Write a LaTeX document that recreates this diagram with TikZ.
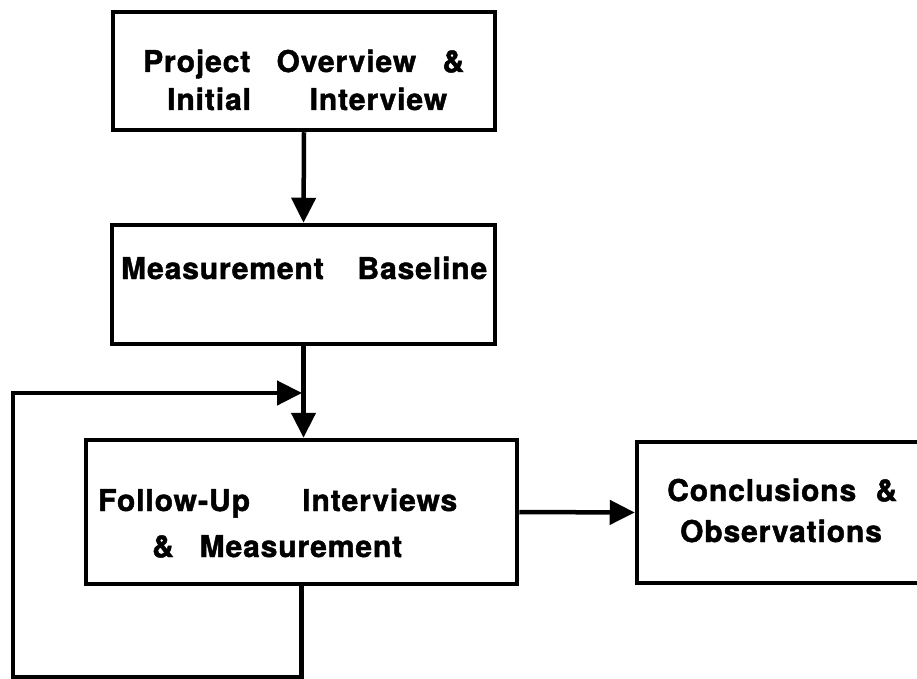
\documentclass[tikz,border=0pt]{standalone}
\usepackage{fontspec}
\newfontfamily\labelfont{texgyreheros-bold.otf}[LetterSpace=3, FakeBold=1.5]
\usetikzlibrary{arrows.meta}
% a line of words spread over a fixed width
\newcommand{\spreadline}[2]{\makebox[#1][s]{#2}}
\begin{document}
\begin{tikzpicture}[x=1pt,y=-1pt,
  box/.style={draw, line width=4.5pt, rectangle, inner sep=0pt},
  lbl/.style={anchor=base west, inner sep=0pt,
    font=\labelfont\fontsize{30}{36}\selectfont},
  flow/.style={line width=4.5pt, line join=miter,
    -{Triangle[length=25pt,width=24pt]}}]
\useasboundingbox (0,0) rectangle (917,679);
\clip (0,0) rectangle (917,679);

% process boxes
\node[box, minimum width=382pt, minimum height=118pt] (overview) at (304,71) {};
\node[box, minimum width=383pt, minimum height=119pt] (baseline) at (303.5,284.5) {};
\node[box, minimum width=431pt, minimum height=144pt] (followup) at (301.5,512) {};
\node[box, minimum width=288pt, minimum height=141pt] (concl) at (781,512.5) {};

% box texts
\node[lbl] (ovA) at (143,72) {\spreadline{321pt}{Project\hfill Overview\hfill\&}};
\node[lbl] (ovB) at (167,110) {\spreadline{280pt}{Initial\hfill Interview}};
\node[lbl] (bl) at (121,279) {\spreadline{366pt}{Measurement\hfill Baseline}};
\node[lbl] (fuA) at (98,511) {\spreadline{359pt}{Follow-Up\hfill Interviews}};
\node[lbl] (fuB) at (152,557) {\spreadline{250pt}{\&\hfill Measurement}};
\node[lbl] (coA) at (667,501) {\spreadline{230pt}{Conclusions\hfill\&}};
\node[lbl, anchor=base] (coB) at (781,542) {Observations};

% connectors
\coordinate (merge) at (302,393);
\coordinate (loopBL) at (13,677);
\coordinate (loopTL) at (13,393);
\draw[flow] (overview.south) -- (baseline.north);
\draw[flow] (baseline.south) -- (baseline.south |- followup.north);
\draw[flow] (followup.south) |- (loopBL) -- (loopTL) -- (merge);
\draw[flow] (followup.east) -- (concl.west);
\end{tikzpicture}
\end{document}
